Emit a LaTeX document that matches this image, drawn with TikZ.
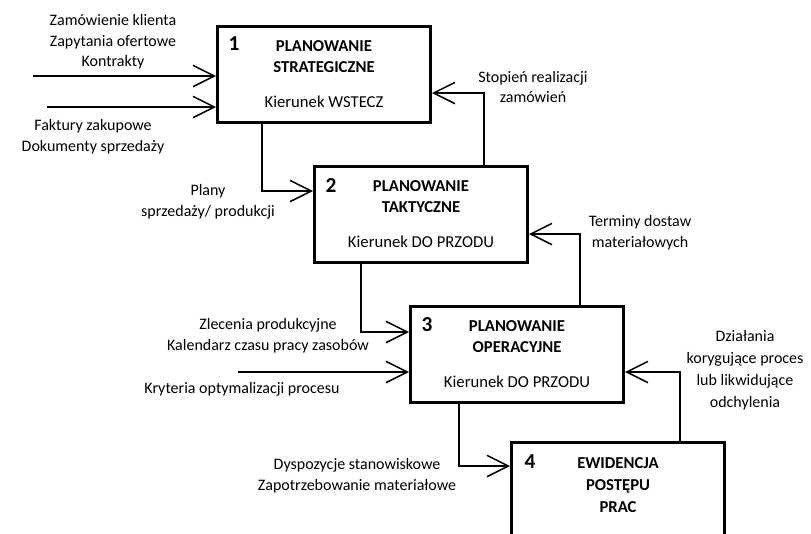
\documentclass[tikz,border=0pt]{standalone}
\usepackage{fontspec}
\setmainfont{Carlito}
\usepackage{tikz}
\usetikzlibrary{arrows.meta, positioning, calc}
\tikzset{
  blk/.style={rectangle, draw, line width=2pt, minimum width=160pt,
    minimum height=72pt, inner sep=0pt, align=center,
    font=\fontsize{12.5}{15.5}\selectfont},
  num/.style={font=\fontsize{16}{18}\selectfont\bfseries, inner sep=0pt},
  lbl/.style={align=center, font=\fontsize{12}{15.5}\selectfont, inner sep=0pt},
  arr/.style={-{Straight Barb[length=16pt, width=16pt]}, line width=1.1pt}
}

\begin{document}
\begin{tikzpicture}[x=0.75pt, y=-0.75pt]
  \path[use as bounding box, clip] (0,0) rectangle (811,533);

  % Boxes
  \node[blk, anchor=north west] (b1) at (216,25)
    {\textbf{PLANOWANIE}\\\textbf{STRATEGICZNE}\\[11pt]Kierunek WSTECZ};
  \node[blk, anchor=north west] (b2) at (313,165)
    {\textbf{PLANOWANIE}\\\textbf{TAKTYCZNE}\\[11pt]Kierunek DO PRZODU};
  \node[blk, anchor=north west] (b3) at (409,305)
    {\textbf{PLANOWANIE}\\\textbf{OPERACYJNE}\\[11pt]Kierunek DO PRZODU};
  \node[blk, anchor=north west] (b4) at (510,441)
    {\textbf{EWIDENCJA}\\[1pt]\textbf{POSTĘPU}\\[1pt]\textbf{PRAC}\\[-8pt]\mbox{}};

  % Numbers
  \node[num] (n1) at ($(b1.north west)+(18,19)$) {1};
  \node[num] (n2) at ($(b2.north west)+(18,20)$) {2};
  \node[num] (n3) at ($(b3.north west)+(18,20)$) {3};
  \node[num] (n4) at ($(b4.north west)+(20,21)$) {4};

  % Labels
  \node[lbl] (t1) at (113,42) {Zamówienie klienta\\Zapytania ofertowe\\Kontrakty};
  \node[lbl] (t2) at (93,137) {Faktury zakupowe\\Dokumenty sprzedaży};
  \node[lbl] (t3) at (533,87) {Stopień realizacji\\zamówień};
  \node[lbl] (t4) at (208,202) {Plany\\sprzedaży/ produkcji};
  \node[lbl] (t5) at (640,233) {Terminy dostaw\\materiałowych};
  \node[lbl] (t6) at (268,336) {Zlecenia produkcyjne\\Kalendarz czasu pracy zasobów};
  \node[lbl] (t7) at (242,389) {Kryteria optymalizacji procesu};
  \node[lbl, font=\fontsize{12}{16.5}\selectfont] (t8) at (745,370)
    {Działania\\korygujące proces\\lub likwidujące\\odchylenia};
  \node[lbl] (t9) at (357,476) {Dyspozycje stanowiskowe\\Zapotrzebowanie materiałowe};

  % Arrows
  \coordinate (in1) at (33,76);
  \coordinate (in2) at (47,107);
  \coordinate (in3) at (238,372);
  \draw[arr] (in1) -- (in1 -| b1.west);
  \draw[arr] (in2) -- (in2 -| b1.west);
  \draw[arr] (in3) -- (in3 -| b3.west);
  \draw[arr] ($(b1.south west)+(46,0)$) |- ($(b2.north west)+(0,26)$);
  \draw[arr] ($(b2.south west)+(48,0)$) |- ($(b3.north west)+(0,27)$);
  \draw[arr] ($(b3.south west)+(50,0)$) |- ($(b4.north west)+(0,25)$);
  \draw[arr] ($(b2.north east)+(-45,0)$) |- ($(b1.north east)+(0,68)$);
  \draw[arr] ($(b3.north east)+(-45,0)$) |- ($(b2.north east)+(0,69)$);
  \draw[arr] ($(b4.north east)+(-46,0)$) |- ($(b3.north east)+(0,67)$);
\end{tikzpicture}
\end{document}
